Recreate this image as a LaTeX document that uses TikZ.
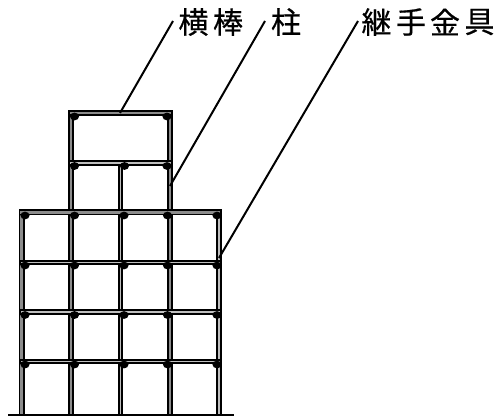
\documentclass[tikz,border=0pt]{standalone}
\usepackage{fontspec}
\newfontfamily\cjk[FakeBold=0.5]{Noto Sans CJK JP}
\tikzset{
  tube/.style={draw=black,line width=1.3pt,double=black!45,double distance=1.9pt,line cap=rect},
  thintube/.style={draw=black,line width=1.6pt,double=black!25,double distance=0.9pt,line cap=rect},
  joint/.style={ellipse,fill=black,inner sep=0pt,minimum width=6.8pt,minimum height=5.8pt},
  lead/.style={draw=black,line width=1.5pt},
  lbl/.style={inner sep=0pt,anchor=center,font=\cjk\fontsize{22.5}{22.5}\selectfont,text=black},
}
\usetikzlibrary{shapes.geometric}
\begin{document}
\begin{tikzpicture}[x=0.75pt,y=-0.75pt]
\useasboundingbox (0,0) rectangle (495,416);
% ground
\coordinate (g1) at (8,415); \coordinate (g2) at (234,415);
\draw[black,line width=1.6pt] (g1) -- (g2);
% columns
\foreach \n/\x/\t/\s in {a/21.7/212/tube,b/71/113/tube,c/120.5/163/thintube,d/170/113/tube,e/219/212/thintube}{
  \coordinate (\n t) at (\x,\t); \coordinate (\n b) at (\x,413);
  \draw[\s] (\n t) -- (\n b);
}
% horizontals
\foreach \n/\y/\l/\r/\s in {h1/113/71/170/tube,h2/163/71/170/thintube,h3/212.5/21.7/219/tube,h4/262.5/21.7/219/thintube,h5/312/21.7/219/thintube,h6/361.5/21.7/219/thintube}{
  \coordinate (\n l) at (\l,\y); \coordinate (\n r) at (\r,\y);
  \draw[\s] (\n l) -- (\n r);
}
% joints
\foreach \x/\y in {74.5/116.5,167/116.5,74.5/166,124.5/166,167/166}{
  \node[joint] (j\x-\y) at (\x,\y) {};
}
\foreach \y in {215.5,265.5,315,364.5}{
  \foreach \x in {25,74.5,124,167.5,217}{
    \node[joint] (j\x-\y) at (\x,\y) {};
  }
}
% labels
\node[lbl] (l1) at (193.5,22) {横};
\node[lbl] (l2) at (228,22) {棒};
\node[lbl] (l3) at (286,22) {柱};
\node[lbl] (l4) at (376.5,22) {継};
\node[lbl] (l5) at (411,22) {手};
\node[lbl] (l6) at (445,22) {金};
\node[lbl] (l7) at (479.5,22) {具};
% leaders
\coordinate (y0) at (173,21); \coordinate (y1) at (120,113);
\coordinate (p0) at (265,21); \coordinate (p1) at (170,186);
\coordinate (q0) at (358,21); \coordinate (q1) at (219,258);
\draw[lead] (y0) -- (y1);
\draw[lead] (p0) -- (p1);
\draw[lead] (q0) -- (q1);
\end{tikzpicture}
\end{document}
